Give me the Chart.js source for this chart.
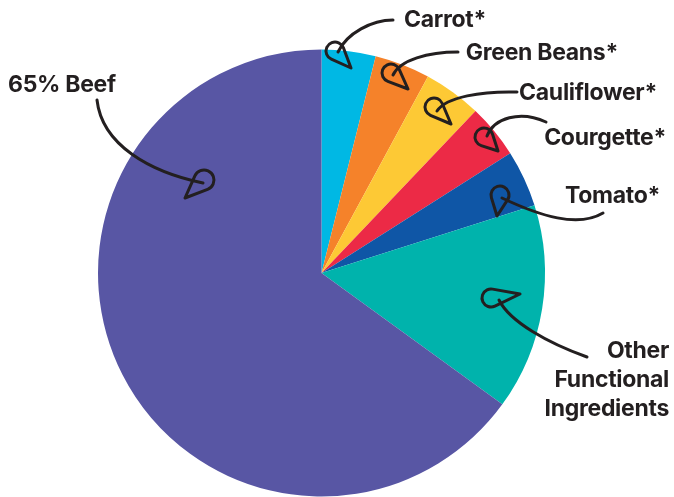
<!DOCTYPE html>
<html>
<head>
<meta charset="utf-8">
<script src="https://cdn.jsdelivr.net/npm/chart.js@4/dist/chart.umd.min.js"></script>
<style>
  html, body { margin: 0; padding: 0; background: #ffffff; }
  #wrap { width: 674px; height: 497px; }
</style>
</head>
<body>
<div id="wrap"><canvas id="chart" width="674" height="497"></canvas></div>
<script>
// Recipe breakdown, share of the pie (%)
const categories = ['Carrot*', 'Green Beans*', 'Cauliflower*', 'Courgette*', 'Tomato*', 'Other Functional Ingredients', '65% Beef'];
const shares = [3.9, 4.0, 4.2, 3.9, 4.1, 14.9, 65.0];
const sliceColors = ['#00b8e4', '#f5822a', '#fdc935', '#ec2a46', '#0f56a6', '#00b3ac', '#5856a4'];

// label text lines, right or left aligned next to each arrow
const labelLines = [['Carrot*'], ['Green Beans*'], ['Cauliflower*'], ['Courgette*'], ['Tomato*'], ['Other', 'Functional', 'Ingredients'], ['65% Beef']];

const INK = '#231f20';

// hand drawn pointers: label anchor + bezier path + teardrop head
const pointers = [
  { text: { x: 486, y: 20, align: 'right' }, path: [[393, 20], [372, 20], [347, 33], [338, 52]], tip: [351, 68], bulb: [335, 51], r: 9 },
  { text: { x: 618, y: 53, align: 'right' }, path: [[458, 52], [428, 52], [400, 60], [393, 75]], tip: [408, 89], bulb: [391, 73], r: 9 },
  { text: { x: 657, y: 93, align: 'right' }, path: [[517, 92], [482, 91], [446, 97], [437, 111]], tip: [451, 124], bulb: [434, 107], r: 9 },
  { text: { x: 666, y: 138, align: 'right' }, path: [[546, 122], [520, 110], [494, 118], [487, 136]], tip: [498, 151], bulb: [484, 137], r: 9 },
  { text: { x: 660, y: 196, align: 'right' }, path: [[603, 213], [578, 228], [540, 216], [502, 198]], tip: [497, 216], bulb: [500, 195], r: 9 },
  { text: { x: 669, y: 351, align: 'right', lineGap: 29 }, path: [[587, 357], [548, 343], [510, 322], [499, 300]], tip: [520, 294], bulb: [491, 298], r: 9 },
  { text: { x: 8, y: 85, align: 'left' }, path: [[97, 100], [102, 145], [150, 172], [203, 183]], tip: [185, 198], bulb: [204, 180], r: 10 }
];

const pointerPlugin = {
  id: 'pointers',
  afterDraw(chart) {
    const ctx = chart.ctx;
    ctx.save();
    ctx.strokeStyle = INK;
    ctx.fillStyle = INK;
    ctx.lineWidth = 3;
    ctx.lineCap = 'round';
    ctx.lineJoin = 'round';
    pointers.forEach((p, i) => {
      // curve
      const [a, b, c, d] = p.path;
      ctx.beginPath();
      ctx.moveTo(a[0], a[1]);
      ctx.bezierCurveTo(b[0], b[1], c[0], c[1], d[0], d[1]);
      ctx.stroke();
      // teardrop head
      const [tx, ty] = p.tip;
      const [cx, cy] = p.bulb;
      const dist = Math.hypot(tx - cx, ty - cy);
      const th = Math.atan2(ty - cy, tx - cx);
      const al = Math.acos(Math.min(1, p.r / dist));
      ctx.beginPath();
      ctx.moveTo(tx, ty);
      ctx.lineTo(cx + p.r * Math.cos(th + al), cy + p.r * Math.sin(th + al));
      ctx.arc(cx, cy, p.r, th + al, th - al + Math.PI * 2, false);
      ctx.closePath();
      ctx.stroke();
      // label text
      ctx.font = '700 23px Inter';
      ctx.letterSpacing = '-0.3px';
      ctx.textAlign = p.text.align;
      ctx.textBaseline = 'middle';
      const lines = labelLines[i];
      lines.forEach((ln, k) => {
        ctx.fillText(ln, p.text.x, p.text.y + k * (p.text.lineGap || 0));
      });
    });
    ctx.restore();
  }
};

new Chart(document.getElementById('chart'), {
  type: 'pie',
  data: {
    labels: categories,
    datasets: [{
      data: shares,
      backgroundColor: sliceColors,
      borderWidth: 0
    }]
  },
  options: {
    responsive: false,
    animation: false,
    layout: { padding: { left: 98, right: 129, top: 49, bottom: 0 } },
    plugins: {
      legend: { display: false },
      tooltip: { enabled: false }
    }
  },
  plugins: [pointerPlugin]
});
</script>
</body>
</html>
